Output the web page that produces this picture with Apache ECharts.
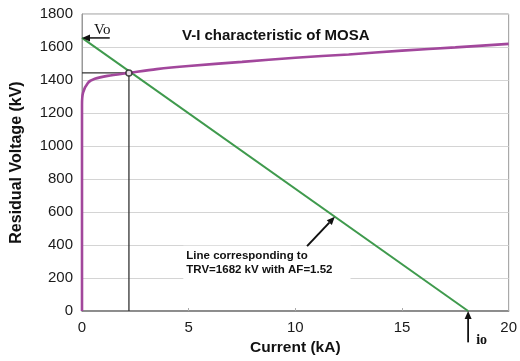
<!DOCTYPE html>
<html>
<head>
<meta charset="utf-8">
<script src="https://cdn.jsdelivr.net/npm/echarts@6/dist/echarts.min.js"></script>
<style>
  html, body { margin: 0; padding: 0; background: #fff; }
  #main { width: 520px; height: 361px; }
</style>
</head>
<body>
<div id="main"></div>
<script>
// MOSA V-I characteristic (current kA, residual voltage kV)
const mosaCurrent = [0, 0, 0.05, 0.28, 0.6, 1.2, 2.2, 3.5, 5, 7.5, 10, 12.5, 15, 17.5, 20];
const mosaVoltage = [0, 1250, 1323, 1383, 1407, 1425, 1443, 1466, 1485, 1510, 1535, 1555, 1578, 1598, 1619];
// TRV line from Vo to io
const trvCurrent = [0, 18.1];
const trvVoltage = [1655, 0];
// operating point
const opCurrent = 2.2;
const opVoltage = 1443;
const xTicks = [0, 5, 10, 15, 20];
const yTicks = [0, 200, 400, 600, 800, 1000, 1200, 1400, 1600, 1800];

const fontSans = "'Liberation Sans', Arial, sans-serif";
const fontSerif = "'Liberation Serif', 'Times New Roman', serif";

function pairs(xs, ys) {
  return xs.map((x, i) => [x, ys[i]]);
}

const options = {
  animation: false,
  title: {
    text: "V-I characteristic of MOSA",
    left: 182, top: 28, padding: 0,
    textStyle: { fontFamily: fontSans, fontSize: 15, fontWeight: "bold", color: "#111" }
  },
  grid: {
    left: 82, right: 7, top: 14, bottom: 49,
    show: true, borderColor: "#999", borderWidth: 1
  },
  xAxis: {
    type: "value",
    min: xTicks[0], max: xTicks[xTicks.length - 1], interval: 5,
    name: "Current (kA)", nameLocation: "middle", nameGap: 29,
    nameTextStyle: { fontFamily: fontSans, fontSize: 15.5, fontWeight: "bold", color: "#111" },
    axisLine: { lineStyle: { color: "#777", width: 1.5 } },
    axisTick: { show: true, inside: true, length: 3, lineStyle: { color: "#aaa" } },
    axisLabel: { fontFamily: fontSans, fontSize: 15, color: "#1a1a1a", margin: 9 },
    splitLine: { show: false }
  },
  yAxis: {
    type: "value",
    min: yTicks[0], max: yTicks[yTicks.length - 1], interval: 200,
    name: "Residual Voltage (kV)", nameLocation: "middle", nameGap: 57,
    nameTextStyle: { fontFamily: fontSans, fontSize: 16, fontWeight: "bold", color: "#111" },
    axisLine: { lineStyle: { color: "#999" } },
    axisTick: { show: false },
    axisLabel: { fontFamily: fontSans, fontSize: 15, color: "#1a1a1a", margin: 9,
      formatter: (v) => String(v) },
    splitLine: { lineStyle: { color: "#d4d4d4", width: 1.2 } }
  },
  series: [
    {
      name: "TRV line", type: "line", data: pairs(trvCurrent, trvVoltage),
      showSymbol: false, lineStyle: { color: "#3f9a4d", width: 2 }, z: 3
    },
    {
      name: "MOSA", type: "line", data: pairs(mosaCurrent, mosaVoltage),
      smooth: 0.3, showSymbol: false, lineStyle: { color: "#a2479c", width: 2.6 }, z: 4
    },
    {
      name: "guide", type: "line",
      data: [[0, opVoltage], [opCurrent, opVoltage], [opCurrent, 0]],
      showSymbol: false, lineStyle: { color: "#333", width: 1.3 }, z: 2
    },
    {
      name: "point", type: "scatter", data: [[opCurrent, opVoltage]],
      symbol: "circle", symbolSize: 6,
      itemStyle: { color: "#fff", borderColor: "#222", borderWidth: 1.5 }, z: 6
    }
  ]
};

const myChart = echarts.init(document.getElementById("main"));
myChart.setOption(options);

function px(x, y) {
  return myChart.convertToPixel({ gridIndex: 0 }, [x, y]);
}

function arrow(from, to, width) {
  const a = px(from[0], from[1]);
  const b = px(to[0], to[1]);
  const ang = Math.atan2(b[1] - a[1], b[0] - a[0]);
  const len = 8, half = 3.5;
  const bx = b[0] - len * Math.cos(ang), by = b[1] - len * Math.sin(ang);
  const nx = -Math.sin(ang) * half, ny = Math.cos(ang) * half;
  return [
    { type: "line", z: 10, shape: { x1: a[0], y1: a[1], x2: bx, y2: by },
      style: { stroke: "#111", lineWidth: width } },
    { type: "polygon", z: 10,
      shape: { points: [[b[0], b[1]], [bx + nx, by + ny], [bx - nx, by - ny]] },
      style: { fill: "#111" } }
  ];
}

const vo = px(trvCurrent[0], trvVoltage[0]);
const io = px(trvCurrent[1], trvVoltage[1]);
const note = px(4.75, 395);

const graphics = []
  .concat(arrow([1.3, trvVoltage[0]], [trvCurrent[0], trvVoltage[0]], 1.5))
  .concat(arrow([trvCurrent[1], -190], [trvCurrent[1], trvVoltage[1]], 1.8))
  .concat(arrow([10.55, 393], [11.85, 571], 2));

graphics.push({
  type: "text", z: 10, x: vo[0] + 12, y: vo[1] - 15,
  style: { text: "Vo", font: "15px " + fontSerif, fill: "#111" }
});
graphics.push({
  type: "text", z: 10, x: io[0] + 8, y: io[1] + 22,
  style: { text: "io", font: "bold 14px " + fontSerif, fill: "#111" }
});
graphics.push({
  type: "text", z: 9, x: note[0], y: note[1],
  style: {
    text: "Line corresponding to\nTRV=1682 kV with AF=1.52",
    font: "bold 11.5px " + fontSans, fill: "#111", lineHeight: 14,
    backgroundColor: "#fff", padding: [3, 18, 4, 3]
  }
});

myChart.setOption({ graphic: graphics });
</script>
</body>
</html>
